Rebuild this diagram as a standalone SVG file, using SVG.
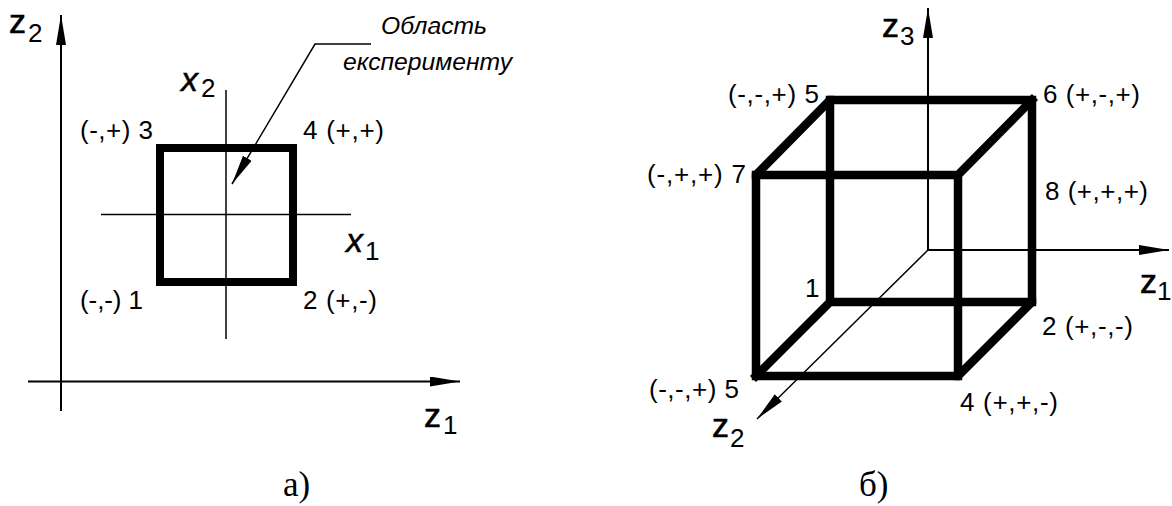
<svg xmlns="http://www.w3.org/2000/svg" width="1172" height="506" viewBox="0 0 1172 506">
<style>
.ax{stroke:#000;stroke-width:2;fill:none}
.thin{stroke:#000;stroke-width:1.5;fill:none}
.thick{stroke:#000;stroke-width:8.5;fill:none;stroke-linejoin:miter;stroke-linecap:square}
.lbl{font-family:"Liberation Sans",Arial,sans-serif;font-size:26px;fill:#000}
.it{font-family:"Liberation Sans",Arial,sans-serif;font-size:24.5px;font-style:italic;fill:#000}
.var{font-family:"Liberation Sans",Arial,sans-serif;font-size:34px;fill:#000;stroke:#000;stroke-width:0.6}
.ivar{font-family:"Liberation Sans",Arial,sans-serif;font-size:34px;font-style:italic;fill:#000;stroke:#000;stroke-width:0.5}
.sub{font-size:26px;font-style:normal;stroke-width:0}
.cap{font-family:"Liberation Serif","Times New Roman",serif;font-size:35px;fill:#000}
</style>
<defs>
<marker id="arr" markerUnits="userSpaceOnUse" markerWidth="32" markerHeight="12" refX="30" refY="5" orient="auto">
<path d="M0,0 L30,5 L0,10 Z" fill="#000"/>
</marker>
</defs>
<g id="connectors">
<line class="ax" x1="61" y1="411" x2="61" y2="15" marker-end="url(#arr)"/>
<line class="ax" x1="28" y1="381.5" x2="460" y2="381.5" marker-end="url(#arr)"/>
<line class="thin" x1="226" y1="90" x2="226" y2="339"/>
<line class="thin" x1="101" y1="214.5" x2="351" y2="214.5"/>
<polyline class="thin" points="371,44 315,44 232,184" marker-end="url(#arr)"/>
<line class="ax" x1="928" y1="250" x2="928" y2="8" marker-end="url(#arr)"/>
<line class="ax" x1="928" y1="250" x2="1169" y2="250" marker-end="url(#arr)"/>
<line class="thin" x1="928" y1="250" x2="757" y2="419" marker-end="url(#arr)"/>
</g>
<g id="square">
<rect class="thick" x="160" y="148" width="133" height="134" style="stroke-width:8"/>
</g>
<g id="cube">
<path class="thick" d="M756,376 L756,175 L830,100 L1032,100 L1032,302 L958,376 Z"/>
<path class="thick" d="M756,175 L958,175 L958,376 M958,175 L1032,100 M830,100 L830,302 L1032,302 M830,302 L756,376"/>
</g>
<g id="labels-a">
<text class="var" x="9" y="33">z<tspan class="sub" x="28" y="42">2</tspan></text>
<text class="var" x="424" y="427">z<tspan class="sub" x="443" y="434">1</tspan></text>
<text class="ivar" x="181" y="91">x<tspan class="sub" x="201" y="97">2</tspan></text>
<text class="ivar" x="346" y="252">x<tspan class="sub" x="365" y="260">1</tspan></text>
<text class="lbl" x="80" y="139" textLength="73" lengthAdjust="spacing">(-,+) 3</text>
<text class="lbl" x="303" y="139" textLength="81" lengthAdjust="spacing">4 (+,+)</text>
<text class="lbl" x="80" y="309" textLength="63" lengthAdjust="spacing">(-,-) 1</text>
<text class="lbl" x="303" y="309" textLength="74" lengthAdjust="spacing">2 (+,-)</text>
<text class="it" x="381" y="34" textLength="106" lengthAdjust="spacingAndGlyphs">Область</text>
<text class="it" x="343" y="70" textLength="169" lengthAdjust="spacingAndGlyphs">експерименту</text>
<text class="cap" x="283" y="496">а)</text>
</g>
<g id="labels-b">
<text class="var" x="882" y="37">z<tspan class="sub" x="900" y="45">3</tspan></text>
<text class="var" x="1140" y="293">z<tspan class="sub" x="1157" y="300">1</tspan></text>
<text class="var" x="712" y="437">z<tspan class="sub" x="730" y="447">2</tspan></text>
<text class="lbl" x="728" y="103" textLength="91" lengthAdjust="spacing">(-,-,+) 5</text>
<text class="lbl" x="1043" y="103" textLength="97" lengthAdjust="spacing">6 (+,-,+)</text>
<text class="lbl" x="647" y="183" textLength="99" lengthAdjust="spacing">(-,+,+) 7</text>
<text class="lbl" x="1045" y="200" textLength="103" lengthAdjust="spacing">8 (+,+,+)</text>
<text class="lbl" x="805" y="297">1</text>
<text class="lbl" x="1042" y="335" textLength="91" lengthAdjust="spacing">2 (+,-,-)</text>
<text class="lbl" x="649" y="398" textLength="90" lengthAdjust="spacing">(-,-,+) 5</text>
<text class="lbl" x="960" y="411" textLength="98" lengthAdjust="spacing">4 (+,+,-)</text>
<text class="cap" x="859" y="496">б)</text>
</g>
</svg>
